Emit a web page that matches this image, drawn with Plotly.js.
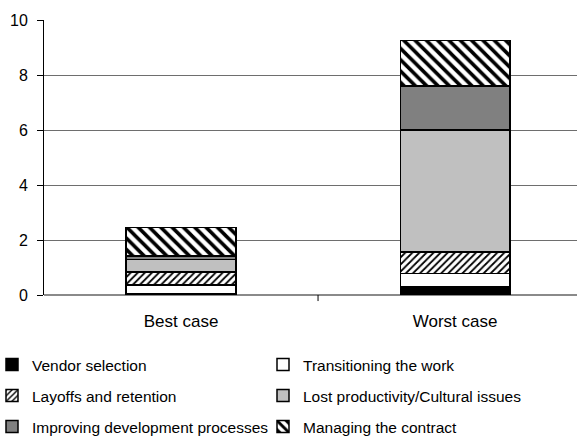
<!DOCTYPE html>
<html>
<head>
<meta charset="utf-8">
<script src="https://cdn.plot.ly/plotly-3.0.1.min.js"></script>
<style>html,body{margin:0;padding:0;background:#fff;}#chart{width:577px;height:438px;}</style>
</head>
<body>
<div id="chart"></div>
<script>
var categories = [0, 1];
var categoryLabels = ["Best case", "Worst case"];
var seriesNames = ["Vendor selection", "Transitioning the work", "Layoffs and retention",
  "Lost productivity/Cultural issues", "Improving development processes", "Managing the contract"];
var vendorSelection = [0.04, 0.30];
var transitioningWork = [0.32, 0.49];
var layoffsRetention = [0.47, 0.78];
var lostProductivity = [0.46, 4.43];
var improvingProcesses = [0.13, 1.60];
var managingContract = [1.03, 1.65];
var yTicks = [0, 2, 4, 6, 8, 10];

var seriesValues = [vendorSelection, transitioningWork, layoffsRetention, lostProductivity, improvingProcesses, managingContract];
var fills = [
  {color: "#000000"},
  {color: "#ffffff"},
  {color: "#ffffff", pattern: {shape: "/", size: 5, solidity: 0.35, fgcolor: "#000", bgcolor: "#fff", fillmode: "replace"}},
  {color: "#c0c0c0"},
  {color: "#808080"},
  {color: "#ffffff", pattern: {shape: "\\", size: 8, solidity: 0.45, fgcolor: "#000", bgcolor: "#fff", fillmode: "replace"}}
];
var legendIds = ["legend", "legend2", "legend3", "legend4", "legend5", "legend6"];
// legend slot positions (left px, row centre px)
var colLeft = [0, 271];
var rowMid = [365, 396, 427];

var traces = seriesNames.map(function (name, i) {
  var m = {color: fills[i].color, line: {color: "#000", width: 1.5}};
  if (fills[i].pattern) m.pattern = fills[i].pattern;
  return {
    type: "bar", name: name, x: categories, y: seriesValues[i],
    width: 0.4, marker: m, legend: legendIds[i], hoverinfo: "skip"
  };
});

function leg(i) {
  return {
    orientation: "h", xref: "container", x: colLeft[i % 2] / 577, xanchor: "left",
    yref: "container", y: 1 - rowMid[Math.floor(i / 2)] / 438, yanchor: "middle",
    indentation: -8,
    font: {family: "Liberation Sans, Arial, sans-serif", size: 15.5, color: "#000"},
    bgcolor: "rgba(0,0,0,0)", borderwidth: 0
  };
}

var layout = {
  width: 577, height: 438,
  margin: {l: 44, r: 0, t: 20, b: 143},
  paper_bgcolor: "#fff", plot_bgcolor: "#fff",
  barmode: "stack",
  showlegend: true,
  font: {family: "Liberation Sans, Arial, sans-serif", size: 16, color: "#000"},
  xaxis: {
    range: [-0.5, 1.445], tickmode: "array", tickvals: categories, ticktext: categoryLabels,
    ticks: "", showgrid: false, zeroline: false, showline: false,
    tickfont: {size: 17}, ticklabelstandoff: 14, fixedrange: true
  },
  yaxis: {
    range: [0, 10], tickmode: "array", tickvals: yTicks, ticks: "outside", ticklen: 6,
    tickcolor: "#000", tickwidth: 1, showline: true, linecolor: "#000", linewidth: 1,
    showgrid: true, gridcolor: "#6e6e6e", gridwidth: 1, zeroline: true, zerolinecolor: "#8a8a8a",
    zerolinewidth: 1.5, tickfont: {size: 16}, ticklabelstandoff: 6, fixedrange: true
  },
  shapes: [
    {type: "line", xref: "x", yref: "paper", x0: 0.5, x1: 0.5, y0: 0, y1: -0.022, line: {color: "#000", width: 1}}
  ]
};
legendIds.forEach(function (id, i) { layout[id] = leg(i); });

Plotly.newPlot("chart", traces, layout, {displayModeBar: false, staticPlot: true});
</script>
</body>
</html>
